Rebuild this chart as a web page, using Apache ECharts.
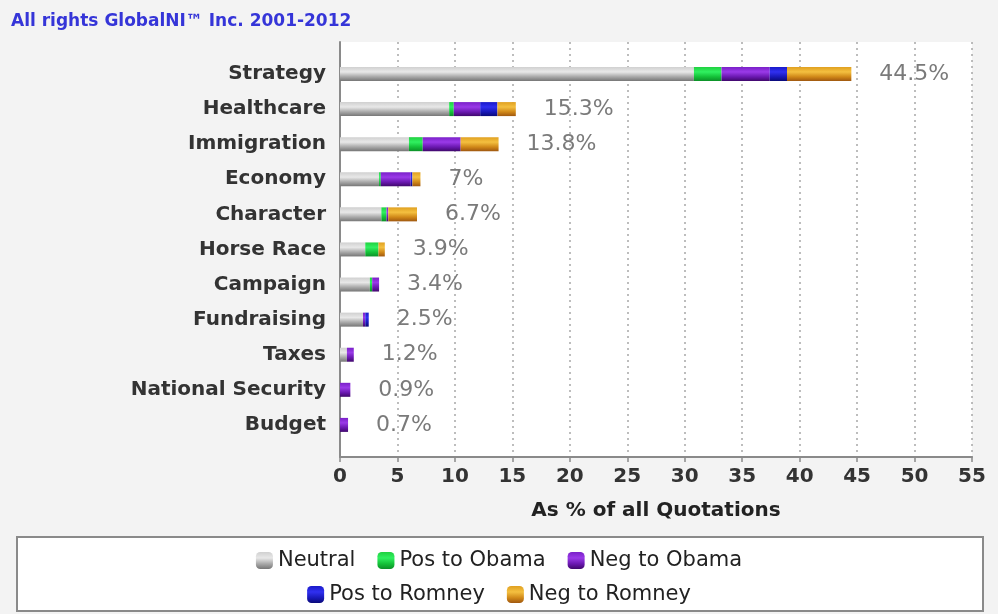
<!DOCTYPE html>
<html>
<head>
<meta charset="utf-8">
<script src="https://cdn.jsdelivr.net/npm/echarts@6/dist/echarts.min.js"></script>
<style>
html,body{margin:0;padding:0;background:#f3f3f3;}
#chart{width:998px;height:614px;}
</style>
</head>
<body>
<div id="chart"></div>
<script>
var categories = ['Strategy','Healthcare','Immigration','Economy','Character','Horse Race','Campaign','Fundraising','Taxes','National Security','Budget'];
var neutral    = [30.8, 9.5, 6.0, 3.4, 3.6, 2.2, 2.6, 2.0, 0.6, 0,   0];
var posObama   = [2.4,  0.4, 1.2, 0.15,0.45,1.15,0.2, 0,   0,   0,   0];
var negObama   = [4.2,  2.3, 3.3, 2.6, 0.15,0,   0.6, 0.2, 0.6, 0.9, 0.7];
var posRomney  = [1.5,  1.5, 0,   0.15,0,   0,   0,   0.3, 0,   0,   0];
var negRomney  = [5.6,  1.6, 3.3, 0.7, 2.5, 0.55,0,   0,   0,   0,   0];
var totals     = [44.5, 15.3, 13.8, 7, 6.7, 3.9, 3.4, 2.5, 1.2, 0.9, 0.7];
var xTicks = {min: 0, max: 55, interval: 5};
var seriesNames = ['Neutral','Pos to Obama','Neg to Obama','Pos to Romney','Neg to Romney'];

function grad(c0, c1, c2, c3) {
  return {type:'linear', x:0, y:0, x2:0, y2:1, colorStops:[
    {offset:0, color:c0},{offset:0.35, color:c1},{offset:0.7, color:c2},{offset:1, color:c3}]};
}
var colors = [
  grad('#d0d0d0','#e8e8e8','#a8a8a8','#767676'),
  grad('#20d040','#30f060','#14c038','#0c9028'),
  grad('#7a20c8','#9a3ae8','#6a18b0','#40086c'),
  grad('#1a1ac8','#3030f0','#1818b8','#0a0a78'),
  grad('#e0a020','#f4c040','#d08818','#a05810')
];
var dataSets = [neutral, posObama, negObama, posRomney, negRomney];

var chart = echarts.init(document.getElementById('chart'), null, {renderer:'canvas'});
var series = dataSets.map(function (d, i) {
  var s = {
    name: seriesNames[i], type: 'bar', stack: 'all', data: d,
    xAxisIndex: 0, yAxisIndex: 0, barWidth: 14,
    itemStyle: {color: colors[i]},
    emphasis: {disabled: true}
  };
  if (i === dataSets.length - 1) {
    s.label = {show: true, position: 'right', distance: 28,
      color: '#7a7a7a', fontFamily: 'DejaVu Sans', fontSize: 22,
      formatter: function (p) { return totals[p.dataIndex] + '%'; }};
  }
  return s;
});

var legendText = {fontFamily: 'DejaVu Sans', fontSize: 21, color: '#222'};
var option = {
  backgroundColor: '#f3f3f3',
  animation: false,
  title: {text: 'All rights GlobalNI\u2122 Inc. 2001-2012', left: 6, top: 8,
    textStyle: {color: '#3535d8', fontFamily: 'DejaVu Sans', fontWeight: 'bold', fontSize: 17}},
  graphic: [{type: 'rect', left: 16, top: 536, shape: {width: 966, height: 74},
    style: {fill: '#ffffff', stroke: '#8a8a8a', lineWidth: 2}, z: -1}],
  legend: [
    {data: seriesNames.slice(0,3), top: 545, left: 'center', itemWidth: 17, itemHeight: 17, itemGap: 22,
     textStyle: legendText},
    {data: seriesNames.slice(3), top: 579, left: 'center', itemWidth: 17, itemHeight: 17, itemGap: 22,
     textStyle: legendText}
  ],
  grid: [
    {left: 340, right: 26, top: 56.45, bottom: 171.55, containLabel: false},
    {left: 340, right: 26, top: 42, bottom: 157, show: true, backgroundColor: '#ffffff', borderWidth: 0, z: -2}
  ],
  xAxis: [
    {type: 'value', gridIndex: 0, min: xTicks.min, max: xTicks.max, interval: xTicks.interval, show: false},
    {type: 'value', gridIndex: 1, min: xTicks.min, max: xTicks.max, interval: xTicks.interval,
     axisLine: {show: true, lineStyle: {color: '#8a8a8a', width: 2}},
     axisTick: {show: true, length: 5, lineStyle: {color: '#8a8a8a', width: 1.5}},
     splitLine: {show: true, lineStyle: {color: '#a8a8a8', type: [2, 4], width: 1.5}},
     axisLabel: {color: '#333', fontFamily: 'DejaVu Sans', fontWeight: 'bold', fontSize: 20, margin: 10},
     name: 'As % of all Quotations', nameLocation: 'middle', nameGap: 44,
     nameTextStyle: {color: '#222', fontFamily: 'DejaVu Sans', fontWeight: 'bold', fontSize: 20}}
  ],
  yAxis: [
    {type: 'category', gridIndex: 0, data: categories, inverse: true,
     axisLine: {show: false}, axisTick: {show: false},
     axisLabel: {color: '#333', fontFamily: 'DejaVu Sans', fontWeight: 'bold', fontSize: 20, margin: 14}},
    {type: 'value', gridIndex: 1, min: 0, max: 1,
     axisLine: {show: true, lineStyle: {color: '#8a8a8a', width: 2}},
     axisTick: {show: false}, axisLabel: {show: false}, splitLine: {show: false}}
  ],
  series: series
};
chart.setOption(option);
</script>
</body>
</html>
